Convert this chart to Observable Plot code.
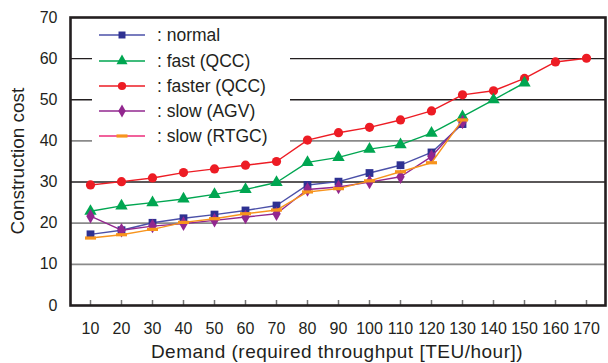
<!DOCTYPE html>
<html><head><meta charset="utf-8">
<script src="https://cdn.jsdelivr.net/npm/d3@7"></script>
<script src="https://cdn.jsdelivr.net/npm/@observablehq/plot@0.6"></script>
<style>
body{margin:0;background:#fff;font-family:"Liberation Sans",Arial,sans-serif}
#c{position:relative;width:608px;height:363px}
#legend{position:absolute;left:92px;top:21px;width:198px;height:127px;background:#fff}
.row{position:absolute;left:0;height:20px;display:flex;align-items:center;font-size:17.5px;color:#231f20}
.row svg{margin-left:6px;margin-right:11px}
.axl{position:absolute;font-size:19px;color:#231f20;white-space:nowrap}
#xl{left:337px;top:352px;transform:translate(-50%,-50%);letter-spacing:0.5px}
#yl{left:18px;top:161px;transform:translate(-50%,-50%) rotate(-90deg)}
</style>
</head><body><div id="c"><div id="legend"></div><div class="axl" id="xl"></div><div class="axl" id="yl"></div></div>
<script>
const demand=[10,20,30,40,50,60,70,80,90,100,110,120,130,140,150,160,170];
const normal=[17.3,18.3,20.1,21.2,22.1,23.1,24.3,29.3,30.1,32.2,34.1,37.2,44.1];
const fast=[22.9,24.2,25.0,25.9,27.0,28.2,29.9,34.8,36.0,38.0,39.1,41.9,45.9,50.0,54.1];
const faster=[29.3,30.1,31.0,32.3,33.2,34.1,35.0,40.2,42.0,43.3,45.1,47.3,51.2,52.2,55.2,59.2,60.1];
const slowAGV=[21.7,18.3,19.3,19.9,20.7,21.5,22.3,28.2,28.8,30.0,31.3,36.2,44.6];
const slowRTGC=[16.4,17.2,18.5,20.2,21.1,22.3,23.2,27.6,28.4,30.3,32.5,34.7,45.1];
const seriesLabels=[": normal",": fast (QCC)",": faster (QCC)",": slow (AGV)",": slow (RTGC)"];
const xTitle="Demand (required throughput [TEU/hour])";
const yTitle="Construction cost";
const yTicks=[0,10,20,30,40,50,60,70];
const gridDark=[30,50,60];
const gridLight=[10,20,40];

const dash={draw(ctx){ctx.rect(-5.5,-1.6,11,3.2);}};

const series=[
  {name:seriesLabels[0],values:normal,line:"#4b50a8",fill:"#2e3192",symbol:"square",r:4.4},
  {name:seriesLabels[1],values:fast,line:"#00a651",fill:"#00a651",symbol:"triangle",r:4.6},
  {name:seriesLabels[2],values:faster,line:"#ed1c24",fill:"#ed1c24",symbol:"circle",r:4.6},
  {name:seriesLabels[3],values:slowAGV,line:"#92278f",fill:"#92278f",symbol:"diamond",r:4.4,legendLine:"#92278f"},
  {name:seriesLabels[4],values:slowRTGC,line:"#f7941d",fill:"#f7941d",symbol:dash,r:4,legendLine:"#ec2d7a"}
];
const drawOrder=[2,1,0,3,4];

const marks=[
  Plot.ruleY(gridLight,{stroke:"#8a8a8a",strokeWidth:1.8}),
  Plot.ruleY(gridDark,{stroke:"#231f20",strokeWidth:1.4}),
];
for(const i of drawOrder){
  const s=series[i];
  const data=s.values.map((v,k)=>({x:demand[k],y:v}));
  marks.push(Plot.line(data,{x:"x",y:"y",stroke:s.line,strokeWidth:1.4}));
  marks.push(Plot.dot(data,{x:"x",y:"y",symbol:()=>s.symbol,fill:s.fill,stroke:"none",r:s.r}));
}
marks.push(
  Plot.axisX({tickSize:-5,tickFormat:()=>"",stroke:"#777",strokeWidth:1.5,label:null}),
  Plot.axisX({tickSize:0,tickPadding:17,fontSize:16,label:null}),
  Plot.axisY({ticks:yTicks,tickSize:0,tickPadding:13,fontSize:16,label:null}),
  Plot.frame({stroke:"#231f20",strokeWidth:2.6})
);

const chart=Plot.plot({
  width:608,height:363,
  marginLeft:70,marginRight:3,marginTop:17,marginBottom:58,
  style:{fontFamily:"Liberation Sans, Arial, sans-serif",color:"#231f20",background:"#fff",fontSize:"16px"},
  x:{type:"point",domain:demand,padding:0.5},
  y:{domain:[0,70]},
  marks
});
const c=document.getElementById("c");
c.insertBefore(chart,c.firstChild);
chart.style.position="absolute";chart.style.left="0";chart.style.top="0";
document.getElementById("xl").textContent=xTitle;
document.getElementById("yl").textContent=yTitle;

const lg=document.getElementById("legend");
const rowTops=[4,30,55,80,105];
const symMap={square:d3.symbolSquare,triangle:d3.symbolTriangle,circle:d3.symbolCircle,diamond:d3.symbolDiamond};
series.forEach((s,i)=>{
  const row=document.createElement("div");
  row.className="row";row.style.top=rowTops[i]+"px";
  const ns="http://www.w3.org/2000/svg";
  const svg=document.createElementNS(ns,"svg");
  svg.setAttribute("width","48");svg.setAttribute("height","20");
  const ln=document.createElementNS(ns,"line");
  ln.setAttribute("x1","1");ln.setAttribute("x2","47");ln.setAttribute("y1","10");ln.setAttribute("y2","10");
  ln.setAttribute("stroke",s.legendLine||s.line);ln.setAttribute("stroke-width","1.6");
  svg.appendChild(ln);
  const p=document.createElementNS(ns,"path");
  const sym=typeof s.symbol==="string"?symMap[s.symbol]:s.symbol;
  p.setAttribute("d",d3.symbol(sym,s.r*s.r*Math.PI*0.8)());
  p.setAttribute("transform","translate(24,10)");
  p.setAttribute("fill",s.fill);
  svg.appendChild(p);
  row.appendChild(svg);
  const t=document.createElement("span");t.textContent=s.name;row.appendChild(t);
  lg.appendChild(row);
});
</script>
</body></html>
